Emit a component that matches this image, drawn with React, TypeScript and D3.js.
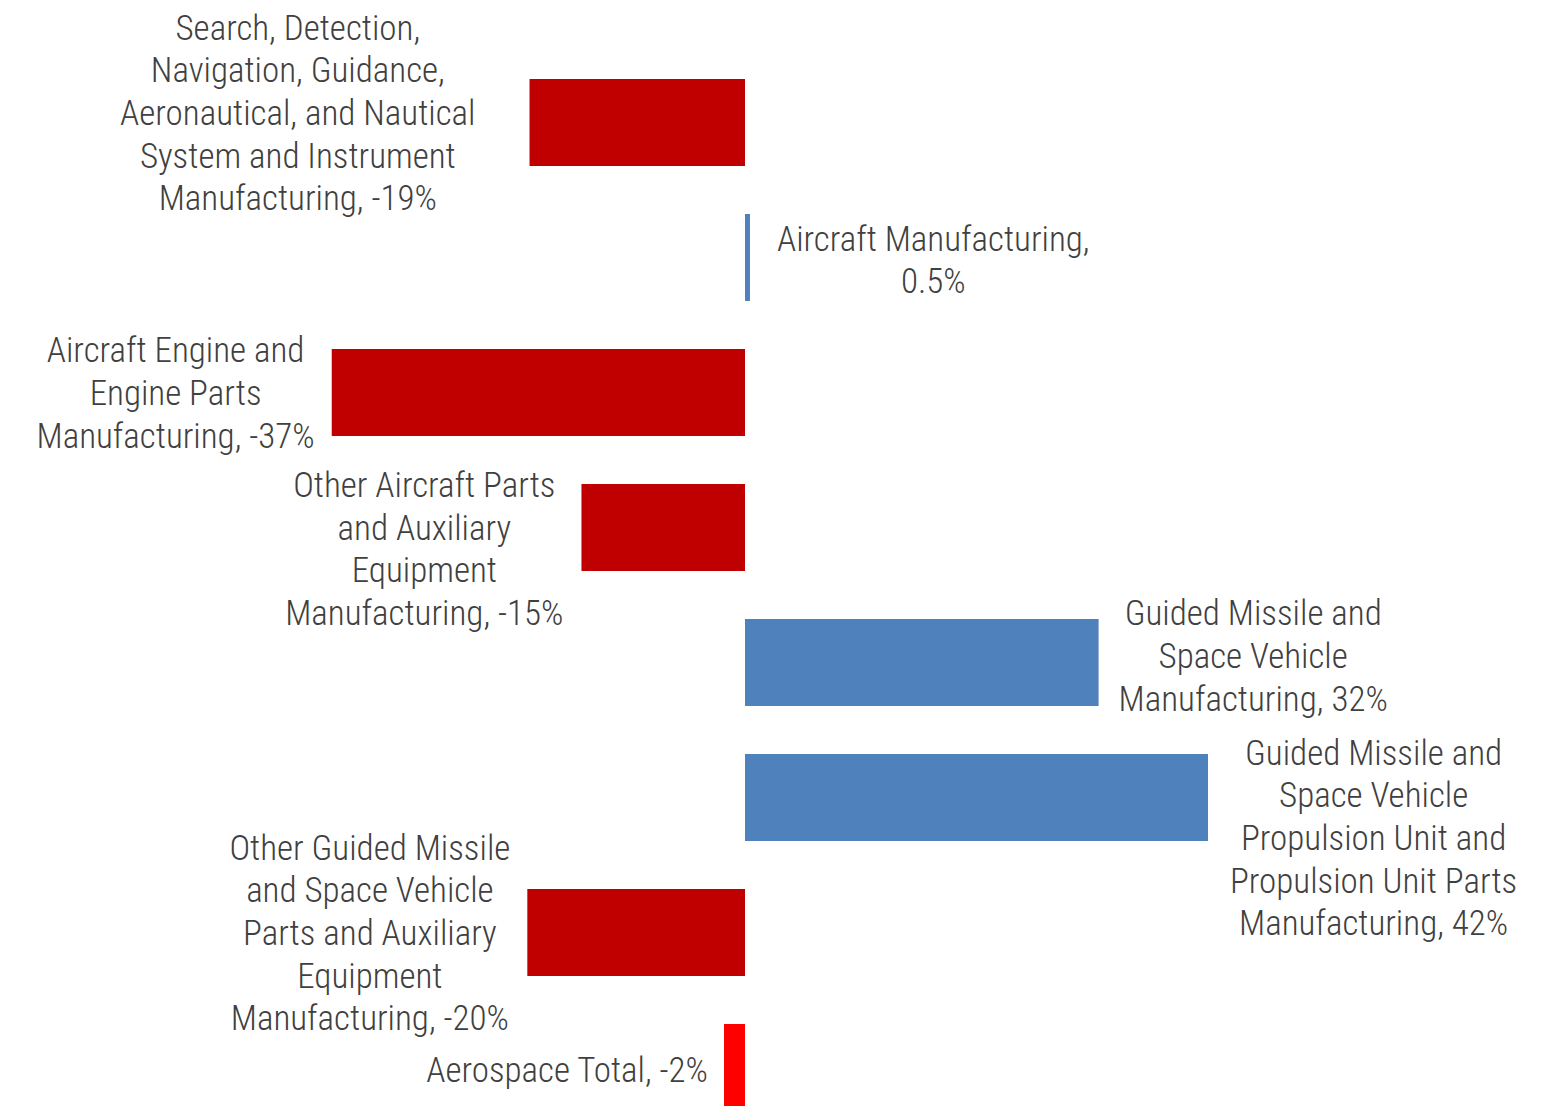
import React, { useEffect, useRef } from "react";
import * as d3 from "d3";

const categories = [
  "Search, Detection, Navigation, Guidance, Aeronautical, and Nautical System and Instrument Manufacturing",
  "Aircraft Manufacturing",
  "Aircraft Engine and Engine Parts Manufacturing",
  "Other Aircraft Parts and Auxiliary Equipment Manufacturing",
  "Guided Missile and Space Vehicle Manufacturing",
  "Guided Missile and Space Vehicle Propulsion Unit and Propulsion Unit Parts Manufacturing",
  "Other Guided Missile and Space Vehicle Parts and Auxiliary Equipment Manufacturing",
  "Aerospace Total",
];
const values = [-19.5, 0.45, -37.4, -14.8, 32.0, 41.9, -19.7, -1.9];
const labelLines = [
  ["Search, Detection,", "Navigation, Guidance,", "Aeronautical, and Nautical", "System and Instrument", "Manufacturing, -19%"],
  ["Aircraft Manufacturing,", "0.5%"],
  ["Aircraft Engine and", "Engine Parts", "Manufacturing, -37%"],
  ["Other Aircraft Parts", "and Auxiliary", "Equipment", "Manufacturing, -15%"],
  ["Guided Missile and", "Space Vehicle", "Manufacturing, 32%"],
  ["Guided Missile and", "Space Vehicle", "Propulsion Unit and", "Propulsion Unit Parts", "Manufacturing, 42%"],
  ["Other Guided Missile", "and Space Vehicle", "Parts and Auxiliary", "Equipment", "Manufacturing, -20%"],
  ["Aerospace Total, -2%"],
];
const isTotal = [false, false, false, false, false, false, false, true];
// label layout tweaks (px)
const labelShiftY = [-10, 2, 0, 21, -7, 40, 0, 2];
const labelGap = [54, 27, 17, 18, 20, 22, 17, 16];

const W = 1560;
const H = 1106;
const FONT = "'Liberation Sans Narrow', 'Arial Narrow', 'Roboto Condensed', sans-serif";
const FS = 35;
const LH = 42.7;

export default function App() {
  const ref = useRef<SVGSVGElement | null>(null);

  useEffect(() => {
    const svg = d3.select(ref.current);
    svg.selectAll("*").remove();

    const k = 11.05;
    const zeroX = 745;
    const x = d3.scaleLinear().domain([-40, 45]).range([zeroX - 40 * k, zeroX + 45 * k]);
    const y = d3
      .scaleBand<number>()
      .domain(d3.range(categories.length))
      .range([55, 1135])
      .paddingInner(0.3556)
      .paddingOuter(0.1778);

    const colorOf = (i: number) =>
      isTotal[i] ? "#FF0000" : values[i] < 0 ? "#C00000" : "#4F81BD";

    svg
      .append("g")
      .selectAll("rect")
      .data(values)
      .join("rect")
      .attr("x", (d) => x(Math.min(0, d)))
      .attr("width", (d) => Math.abs(x(d) - x(0)))
      .attr("y", (_, i) => y(i)!)
      .attr("height", y.bandwidth())
      .attr("fill", (_, i) => colorOf(i));

    const lg = svg.append("g");
    values.forEach((v, i) => {
      const g = lg.append("g");
      const lines = labelLines[i];
      const texts = lines.map((t) =>
        g
          .append("text")
          .attr("font-family", FONT)
          .attr("font-size", FS)
          .attr("font-weight", 300)
          .attr("fill", "#404040")
          .attr("text-anchor", "middle")
          .text(t)
      );
      const maxW = d3.max(texts.map((t) => (t.node() as SVGTextElement).getComputedTextLength())) || 0;
      const end = x(v);
      const cx = v < 0 ? end - labelGap[i] - maxW / 2 : end + labelGap[i] + maxW / 2;
      const cy = y(i)! + y.bandwidth() / 2 + labelShiftY[i];
      const top = cy - ((lines.length - 1) * LH) / 2;
      texts.forEach((t, j) => {
        t.attr("x", cx).attr("y", top + j * LH + FS * 0.355);
      });
    });
  }, []);

  return (
    <svg
      ref={ref}
      width={W}
      height={H}
      style={{ position: "absolute", left: 0, top: 0, background: "#fff" }}
    />
  );
}
